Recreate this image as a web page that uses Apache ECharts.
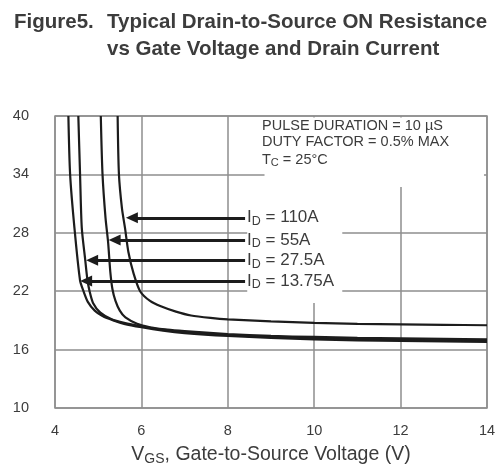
<!DOCTYPE html>
<html>
<head>
<meta charset="utf-8">
<script src="https://cdn.jsdelivr.net/npm/echarts@6/dist/echarts.min.js"></script>
<style>
html,body{margin:0;padding:0;background:#fff;}
#chart{width:504px;height:471px;}
</style>
</head>
<body>
<div id="chart"></div>
<script>
// Axis ticks
var xTicks = [4, 6, 8, 10, 12, 14];
var yTicks = [10, 16, 22, 28, 34, 40];

// Curves: [V_GS (V), R_DS(on)]
var curveId13_75 = [[4.31,40],[4.35,34],[4.45,28.5],[4.58,23.1],[4.66,22.0],[4.76,20.9],[4.92,20.0],[5.1,19.45],[5.35,19.0],[5.6,18.65],[6.0,18.3],[6.5,17.95],[7.0,17.7],[8.0,17.4],[9.0,17.2],[10.0,17.05],[11.0,16.95],[12.0,16.9],[13.0,16.85],[14.0,16.8]];
var curveId27_5 = [[4.54,40],[4.58,34],[4.62,28.5],[4.70,25.2],[4.75,23.2],[4.80,22.0],[4.88,20.8],[5.05,19.8],[5.3,19.15],[5.6,18.75],[6.0,18.4],[6.5,18.05],[7.0,17.8],[8.0,17.5],[9.0,17.3],[10.0,17.15],[11.0,17.05],[12.0,17.0],[13.0,16.95],[14.0,16.9]];
var curveId55 = [[5.06,40],[5.10,34],[5.17,29.5],[5.23,27.0],[5.28,24.0],[5.33,22.2],[5.40,21.0],[5.5,20.0],[5.63,19.3],[5.9,18.65],[6.2,18.3],[6.6,18.05],[7.0,17.9],[8.0,17.6],[9.0,17.4],[10.0,17.3],[11.0,17.2],[12.0,17.15],[13.0,17.1],[14.0,17.05]];
var curveId110 = [[5.45,40],[5.48,34],[5.55,30.5],[5.62,28.5],[5.70,26.0],[5.82,23.8],[5.97,22.0],[6.2,21.0],[6.45,20.45],[6.8,19.9],[7.15,19.5],[7.6,19.25],[8.0,19.1],[9.0,18.9],[10.0,18.75],[11.0,18.65],[12.0,18.6],[13.0,18.55],[14.0,18.5]];

// Arrow annotations: [label current, arrow start V_GS, arrow end V_GS, R]
var arrowLabels = ['110A', '55A', '27.5A', '13.75A'];
var arrowStartX = [8.4, 8.4, 8.4, 8.4];
var arrowEndX = [5.78, 5.38, 4.86, 4.72];
var arrowY = [29.54, 27.26, 25.18, 23.05];

var chart = echarts.init(document.getElementById('chart'), null, {renderer: 'canvas'});

var gridColor = '#8e8e8e';
var textColor = '#3c3c3c';
var lineColor = '#1c1c1c';
var FF = 'Liberation Sans';

function curveSeries(name, data) {
  return {
    name: name, type: 'line', data: data, smooth: 0.25, symbol: 'none', clip: true, z: 3,
    lineStyle: {color: lineColor, width: 2.2},
    silent: true
  };
}

var arrowData = arrowLabels.map(function (lab, i) {
  return [
    {coord: [arrowStartX[i], arrowY[i]], label: {formatter: '{i|I}{d|D}{t| = ' + lab + '}'}},
    {coord: [arrowEndX[i], arrowY[i]]}
  ];
});

var option = {
  backgroundColor: '#fff',
  animation: false,
  title: [
    {text: 'Figure5.', left: 14, top: 9, padding: 0, textStyle: {fontFamily: FF, fontSize: 20.5, fontWeight: 'bold', color: textColor, lineHeight: 27}},
    {text: 'Typical Drain-to-Source ON Resistance\nvs Gate Voltage and Drain Current', left: 107, top: 9, padding: 0, textStyle: {fontFamily: FF, fontSize: 20.5, fontWeight: 'bold', color: textColor, lineHeight: 27}}
  ],
  grid: {left: 55, right: 17, top: 116, bottom: 59, show: true, borderColor: gridColor, borderWidth: 1.5, backgroundColor: '#fff'},
  xAxis: {
    type: 'value', min: xTicks[0], max: xTicks[xTicks.length - 1], interval: 2,
    axisLine: {show: false}, axisTick: {show: false},
    splitLine: {show: true, lineStyle: {color: gridColor, width: 1.5}},
    axisLabel: {fontFamily: FF, fontSize: 14.5, color: textColor, margin: 15},
    name: '{v|V}{s|GS}{t|, Gate-to-Source Voltage (V)}',
    nameLocation: 'middle', nameGap: 35,
    nameTextStyle: {
      fontFamily: FF, color: textColor,
      rich: {
        v: {fontFamily: FF, fontSize: 19.5, color: textColor},
        s: {fontFamily: FF, fontSize: 14, color: textColor, padding: [9, 0, 0, 0]},
        t: {fontFamily: FF, fontSize: 19.5, color: textColor}
      }
    }
  },
  yAxis: {
    type: 'value', min: yTicks[0], max: yTicks[yTicks.length - 1], interval: 6,
    axisLine: {show: false}, axisTick: {show: false},
    splitLine: {show: true, lineStyle: {color: gridColor, width: 1.5}},
    axisLabel: {fontFamily: FF, fontSize: 14.5, color: textColor, margin: 26}
  },
  series: [
    {
      type: 'line', data: [], z: 1, silent: true,
      markArea: {
        silent: true,
        itemStyle: {color: '#ffffff', opacity: 1},
        label: {show: false},
        data: [
          [{coord: [8.85, 32.7]}, {coord: [13.93, 39.85]}],
          [{coord: [8.45, 20.8]}, {coord: [10.65, 32.7]}]
        ]
      }
    },
    curveSeries('13.75A', curveId13_75),
    curveSeries('27.5A', curveId27_5),
    curveSeries('55A', curveId55),
    curveSeries('110A', curveId110),
    {
      type: 'line', data: [], z: 4, silent: true,
      markLine: {
        silent: true, animation: false,
        symbol: ['none', 'path://M5,0 L10,12 L0,12 Z'],
        symbolSize: [11, 12],
        lineStyle: {color: lineColor, width: 3, type: 'solid'},
        label: {
          show: true, position: 'start', distance: 2,
          rich: {
            i: {fontFamily: FF, fontSize: 17, color: textColor},
            d: {fontFamily: FF, fontSize: 12.5, color: textColor, padding: [8, 0, 0, 0]},
            t: {fontFamily: FF, fontSize: 17, color: textColor}
          }
        },
        data: arrowData
      }
    }
  ],
  graphic: [
    {type: 'text', left: 262, top: 118, z: 20, style: {text: 'PULSE DURATION = 10 µS', fontFamily: FF, fontSize: 14.5, fill: textColor}},
    {type: 'text', left: 262, top: 134, z: 20, style: {text: 'DUTY FACTOR = 0.5% MAX', fontFamily: FF, fontSize: 14.5, fill: textColor}},
    {type: 'text', left: 262, top: 152, z: 20, style: {
      text: '{a|T}{b|C}{a| = 25°C}', fontFamily: FF, fill: textColor,
      rich: {
        a: {fontFamily: FF, fontSize: 14.5, fill: textColor, color: textColor},
        b: {fontFamily: FF, fontSize: 11, fill: textColor, color: textColor, padding: [7, 0, 0, 0]}
      }
    }}
  ]
};
chart.setOption(option);
</script>
</body>
</html>
